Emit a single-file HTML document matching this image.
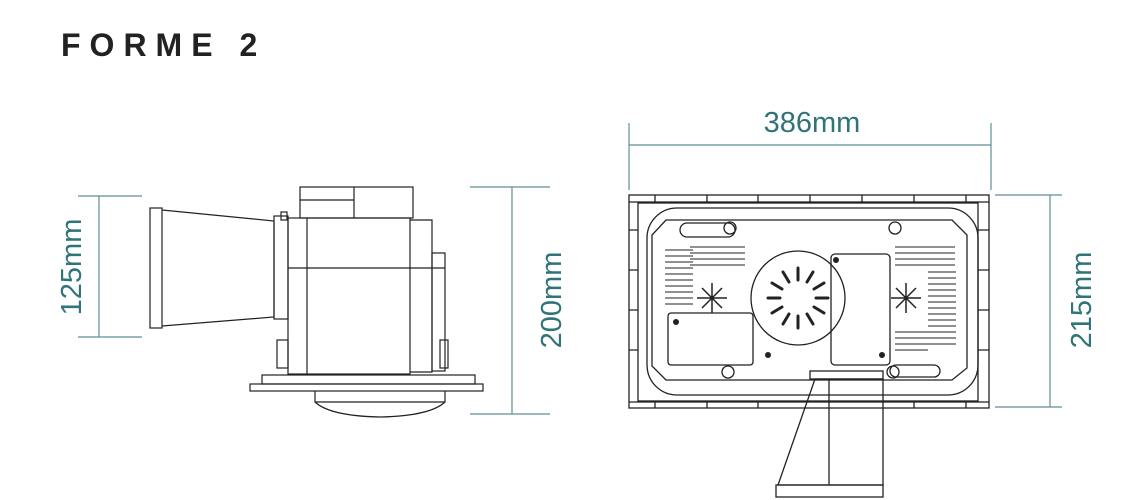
<!DOCTYPE html>
<html><head><meta charset="utf-8"><style>
html,body{margin:0;padding:0;background:#fff;width:1128px;height:500px;overflow:hidden}
svg{display:block}
</style></head><body>
<svg width="1128" height="500" viewBox="0 0 1128 500" xmlns="http://www.w3.org/2000/svg">
<text x="61" y="56" font-family="Liberation Sans, sans-serif" font-weight="bold" font-size="32" letter-spacing="9" fill="#222">FORME 2</text>

<!-- dimension lines -->
<g stroke="#5f8f93" stroke-width="1.2" fill="none">
<line x1="78" y1="196" x2="142" y2="196"/><line x1="78" y1="337" x2="142" y2="337"/><line x1="99" y1="196" x2="99" y2="337"/>
<line x1="470" y1="187" x2="550" y2="187"/><line x1="470" y1="414" x2="550" y2="414"/><line x1="512" y1="187" x2="512" y2="414"/>
<line x1="629" y1="123" x2="629" y2="190"/><line x1="991" y1="123" x2="991" y2="190"/><line x1="629" y1="145" x2="991" y2="145"/>
<line x1="995" y1="195" x2="1062" y2="195"/><line x1="995" y1="407" x2="1062" y2="407"/><line x1="1050" y1="195" x2="1050" y2="407"/>
</g>
<g font-family="Liberation Sans, sans-serif" font-size="29" fill="#2f7479">
<text x="812" y="132" text-anchor="middle">386mm</text>
<text transform="translate(81,267) rotate(-90)" text-anchor="middle">125mm</text>
<text transform="translate(561,300) rotate(-90)" text-anchor="middle">200mm</text>
<text transform="translate(1091,300) rotate(-90)" text-anchor="middle">215mm</text>
</g>

<!-- left drawing -->
<g stroke="#222" stroke-width="1.2" fill="none">
<rect x="150" y="208" width="12" height="120"/>
<polyline points="162,210 274,221 274,317 162,326"/>
<rect x="274" y="216" width="14" height="103"/>
<rect x="281" y="212" width="6" height="8"/>
<rect x="300" y="187" width="113" height="31"/>
<line x1="300" y1="200" x2="354" y2="200"/><line x1="354" y1="187" x2="354" y2="218"/>
<rect x="288" y="218" width="122" height="156"/>
<line x1="307" y1="218" x2="307" y2="374"/>
<line x1="288" y1="268" x2="445" y2="268"/>
<polyline points="410,220 432,220 432,372 410,372"/>
<rect x="432" y="253" width="13" height="118"/>
<rect x="277" y="340" width="11" height="28"/>
<rect x="440" y="340" width="8" height="28"/>
<rect x="262" y="375" width="213" height="9"/>
<rect x="250" y="384" width="233" height="7"/>
<path d="M315 391 L315 402 Q330 416 380 417 Q430 416 445 402 L445 391"/>
<line x1="315" y1="402" x2="445" y2="402"/>
</g>

<!-- right drawing -->
<g stroke="#222" stroke-width="1.3" fill="none">
<rect x="629" y="195" width="360" height="213"/>
<rect x="638" y="203" width="340" height="198"/>
<rect x="647" y="208" width="331" height="187" rx="30"/>
<polygon points="666,220 952,220 967,235 967,368 952,380 666,380 652,366 652,235"/>
<line x1="629" y1="202" x2="989" y2="202"/><line x1="629" y1="402" x2="989" y2="402"/>
<path d="M655 195v7M707 195v7M758 195v7M810 195v7M862 195v7M914 195v7M966 195v7M655 402v6M707 402v6M758 402v6M914 402v6M966 402v6M629 230h9M629 270h9M629 310h9M629 350h9M978 230h11M978 270h11M978 310h11M978 350h11"/>
<circle cx="798" cy="298" r="47"/>
<rect x="668" y="313" width="85" height="52" rx="3"/>
<rect x="831" y="254" width="59" height="111" rx="4"/>
<rect x="680" y="223" width="55" height="14" rx="7"/>
<rect x="890" y="365" width="50" height="12" rx="6"/>
<circle cx="730" cy="228" r="6"/><circle cx="895" cy="228" r="6"/>
<circle cx="728" cy="372" r="6"/><circle cx="893" cy="372" r="6"/>
<rect x="810" y="371" width="73" height="8"/>
<polygon points="815,379 883,379 883,485 778,485"/>
<line x1="829" y1="379" x2="829" y2="485"/>
<rect x="776" y="485" width="107" height="12"/>
</g>
<!-- fan slots -->
<g stroke="#222" stroke-width="3" stroke-linecap="round">
<line x1="798" y1="268" x2="798" y2="280"/><line x1="798" y1="316" x2="798" y2="328"/>
<line x1="768" y1="298" x2="780" y2="298"/><line x1="816" y1="298" x2="828" y2="298"/>
<line x1="783" y1="272" x2="789" y2="282"/><line x1="813" y1="272" x2="807" y2="282"/>
<line x1="783" y1="324" x2="789" y2="314"/><line x1="813" y1="324" x2="807" y2="314"/>
<line x1="772" y1="283" x2="782" y2="289"/><line x1="824" y1="283" x2="814" y2="289"/>
<line x1="772" y1="313" x2="782" y2="307"/><line x1="824" y1="313" x2="814" y2="307"/>
</g>
<!-- vents -->
<g fill="none" stroke="#222" stroke-width="1">
<path d="M665 250h28M665 256h28M665 262h28M665 268h28M665 274h28M665 280h28M665 286h28M665 292h28M665 298h28M665 304h28"/>
<path d="M690 247h55M690 253h55M690 259h55M690 265h55"/>
<path d="M895 247h60M895 253h60M895 259h60M895 265h60"/>
<path d="M928 272h28M928 278h28M928 284h28M928 290h28M928 296h28M928 302h28M928 308h28M928 314h28M928 320h28M928 326h28M928 332h28M928 338h28M928 344h28"/>
<path d="M895 332h33M895 338h33M895 344h33M895 350h33"/>
</g>
<g stroke="#222" stroke-width="1.5">
<path d="M712 283v30M697 298h30M702 288l20 20M722 288l-20 20"/>
<path d="M906 283v30M891 298h30M896 288l20 20M916 288l-20 20"/>
</g>
<g fill="#222">
<circle cx="676" cy="322" r="3"/><circle cx="768" cy="355" r="3"/><circle cx="882" cy="355" r="3"/><circle cx="836" cy="260" r="3"/>
</g>
</svg>
</body></html>
